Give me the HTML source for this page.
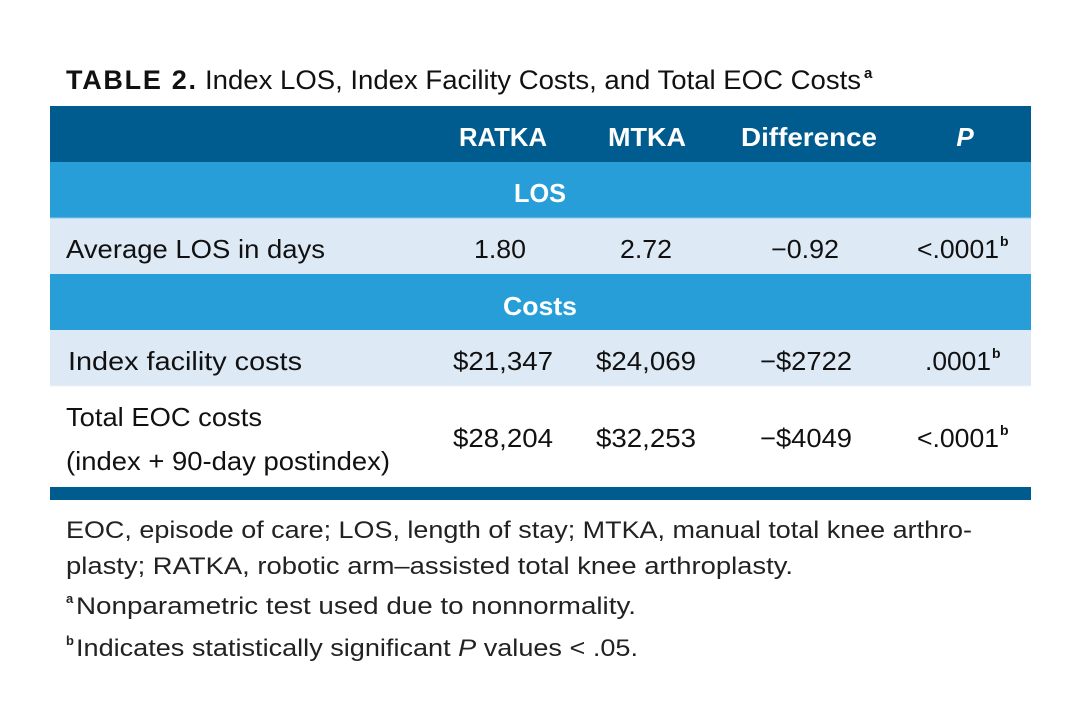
<!DOCTYPE html>
<html><head><meta charset="utf-8"><style>
html,body{margin:0;padding:0;background:#fff;}
svg{display:block;font-family:"Liberation Sans",sans-serif;}
</style></head><body>
<svg width="1081" height="723" viewBox="0 0 1081 723">
<rect x="0" y="0" width="1081" height="723" fill="#fff"/>
<text x="66" y="89" font-size="27" font-weight="bold" fill="#111" textLength="130" lengthAdjust="spacing">TABLE 2.</text>
<text x="205" y="89" font-size="27" fill="#111" textLength="656" lengthAdjust="spacingAndGlyphs">Index LOS, Index Facility Costs, and Total EOC Costs</text>
<text x="864" y="78" font-size="15" font-weight="bold" fill="#111">a</text>

<rect x="50" y="106" width="981" height="56" fill="#005b8e"/>
<rect x="50" y="162" width="981" height="56" fill="#289ed9"/>
<rect x="50" y="218" width="981" height="56" fill="#dde9f5"/>
<rect x="50" y="274" width="981" height="56" fill="#289ed9"/>
<rect x="50" y="330" width="981" height="56" fill="#dde9f5"/>
<rect x="50" y="386" width="981" height="101" fill="#fff"/>
<rect x="50" y="487" width="981" height="13" fill="#005b8e"/>
<line x1="50" y1="218" x2="1031" y2="218" stroke="#8fc8ea" stroke-width="1"/>
<line x1="50" y1="386" x2="1031" y2="386" stroke="#eef4fa" stroke-width="1"/>

<g fill="#fff" font-weight="bold" font-size="26" text-anchor="middle">
<text x="503" y="146" textLength="88" lengthAdjust="spacingAndGlyphs">RATKA</text>
<text x="647" y="146" textLength="78" lengthAdjust="spacingAndGlyphs">MTKA</text>
<text x="809" y="146" textLength="136" lengthAdjust="spacingAndGlyphs">Difference</text>
<text x="965" y="146" font-style="italic">P</text>
<text x="540" y="202" textLength="52" lengthAdjust="spacingAndGlyphs">LOS</text>
<text x="540" y="315" textLength="74" lengthAdjust="spacingAndGlyphs">Costs</text>
</g>

<g fill="#111" font-size="26">
<text x="66" y="258" textLength="259" lengthAdjust="spacingAndGlyphs">Average LOS in days</text>
<text x="68" y="370" textLength="234" lengthAdjust="spacingAndGlyphs">Index facility costs</text>
<text x="66" y="426" textLength="196" lengthAdjust="spacingAndGlyphs">Total EOC costs</text>
<text x="66" y="470" textLength="324" lengthAdjust="spacingAndGlyphs">(index + 90-day postindex)</text>
</g>
<g fill="#111" font-size="26" text-anchor="middle">
<text x="500" y="258" textLength="52" lengthAdjust="spacingAndGlyphs">1.80</text>
<text x="646" y="258" textLength="52" lengthAdjust="spacingAndGlyphs">2.72</text>
<text x="805" y="258" textLength="68" lengthAdjust="spacingAndGlyphs">−0.92</text>
<text x="503" y="370" textLength="100" lengthAdjust="spacingAndGlyphs">$21,347</text>
<text x="646" y="370" textLength="100" lengthAdjust="spacingAndGlyphs">$24,069</text>
<text x="806" y="370" textLength="92" lengthAdjust="spacingAndGlyphs">−$2722</text>
<text x="503" y="447" textLength="100" lengthAdjust="spacingAndGlyphs">$28,204</text>
<text x="646" y="447" textLength="100" lengthAdjust="spacingAndGlyphs">$32,253</text>
<text x="806" y="447" textLength="92" lengthAdjust="spacingAndGlyphs">−$4049</text>
</g>
<g fill="#111" font-size="26">
<text x="917" y="258" textLength="82" lengthAdjust="spacingAndGlyphs">&lt;.0001</text>
<text x="1000" y="246" font-size="14" font-weight="bold">b</text>
<text x="925" y="370" textLength="66" lengthAdjust="spacingAndGlyphs">.0001</text>
<text x="992" y="358" font-size="14" font-weight="bold">b</text>
<text x="917" y="447" textLength="82" lengthAdjust="spacingAndGlyphs">&lt;.0001</text>
<text x="1000" y="435" font-size="14" font-weight="bold">b</text>
</g>

<g fill="#222" font-size="24">
<text x="66" y="538" textLength="906" lengthAdjust="spacingAndGlyphs">EOC, episode of care; LOS, length of stay; MTKA, manual total knee arthro-</text>
<text x="66" y="574" textLength="727" lengthAdjust="spacingAndGlyphs">plasty; RATKA, robotic arm–assisted total knee arthroplasty.</text>
<text x="66" y="603" font-size="13" font-weight="bold">a</text>
<text x="76" y="614" textLength="560" lengthAdjust="spacingAndGlyphs">Nonparametric test used due to nonnormality.</text>
<text x="66" y="645" font-size="13" font-weight="bold">b</text>
<text x="76" y="656" textLength="562" lengthAdjust="spacingAndGlyphs">Indicates statistically significant <tspan font-style="italic">P</tspan> values &lt; .05.</text>
</g>
</svg>
</body></html>
